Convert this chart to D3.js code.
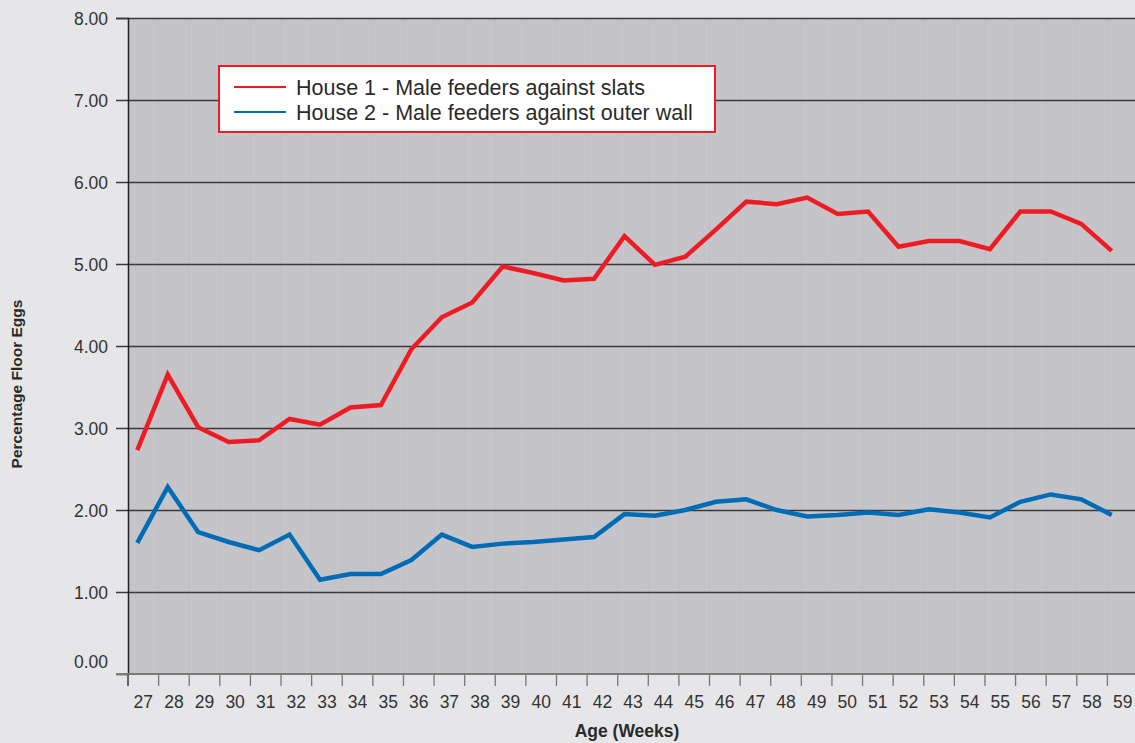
<!DOCTYPE html>
<html>
<head>
<meta charset="utf-8">
<script src="https://cdn.jsdelivr.net/npm/d3@7"></script>
<style>
  html, body { margin: 0; padding: 0; background: #e6e6e8; }
  svg { display: block; font-family: "Liberation Sans", Arial, Helvetica, sans-serif; }
</style>
</head>
<body>
<svg id="chart" width="1135" height="743"></svg>
<script>
const weeks = [27,28,29,30,31,32,33,34,35,36,37,38,39,40,41,42,43,44,45,46,47,48,49,50,51,52,53,54,55,56,57,58,59];
const house1 = [2.73,3.65,3.01,2.83,2.85,3.11,3.04,3.25,3.28,3.96,4.35,4.53,4.97,4.89,4.80,4.82,5.34,4.99,5.09,5.42,5.76,5.73,5.81,5.61,5.64,5.21,5.28,5.28,5.18,5.64,5.64,5.49,5.16];
const house2 = [1.60,2.28,1.73,1.61,1.51,1.70,1.15,1.22,1.22,1.39,1.70,1.55,1.59,1.61,1.64,1.67,1.95,1.93,2.00,2.10,2.13,2.00,1.92,1.94,1.97,1.94,2.01,1.97,1.91,2.10,2.19,2.13,1.94];
const yTicks = [0,1,2,3,4,5,6,7,8];
const seriesNames = ["House 1 - Male feeders against slats", "House 2 - Male feeders against outer wall"];
const seriesColors = ["#ed1c24", "#006cb6"];
const xTitle = "Age (Weeks)";
const yTitle = "Percentage Floor Eggs";

(function () {
const svg = d3.select("#chart");
const pLeft = 128, pTop = 18, pBottom = 674, pRight = 1138;

const y = d3.scaleLinear().domain([0, 8]).range([pBottom, pTop]);
const xBand = d3.scaleBand().domain(weeks).range([pLeft, pRight]);
const xPoint = d3.scalePoint().domain(weeks).range([137.3, 1111.7]);

// plot background
svg.append("rect").attr("x", pLeft).attr("y", pTop)
  .attr("width", pRight - pLeft).attr("height", pBottom - pTop).attr("fill", "#c5c4c9");

// faint vertical grid
svg.append("g").selectAll("line").data(weeks.slice(1)).join("line")
  .attr("x1", d => xBand(d)).attr("x2", d => xBand(d))
  .attr("y1", pTop).attr("y2", pBottom)
  .attr("stroke", "#c0bfc4").attr("stroke-width", 1);

// horizontal gridlines
svg.append("g").selectAll("line").data(yTicks.filter(d => d > 0)).join("line")
  .attr("x1", pLeft - 12).attr("x2", pRight)
  .attr("y1", d => Math.round(y(d)) + 0.5).attr("y2", d => Math.round(y(d)) + 0.5)
  .attr("stroke", "#3a3a3c").attr("stroke-width", 1.3);

// y axis
const yAxis = svg.append("g").attr("transform", `translate(${pLeft},0)`)
  .call(d3.axisLeft(y).tickValues(yTicks).tickFormat(d3.format(".2f")).tickSize(12).tickPadding(8));
yAxis.select(".domain").attr("stroke", "#222").attr("stroke-width", 1.5);
yAxis.selectAll(".tick line").attr("stroke", "#3a3a3c");
yAxis.selectAll(".tick text").attr("font-size", 17.5).attr("fill", "#333")
  .attr("font-family", "Liberation Sans, Arial, sans-serif")
  .attr("dy", d => d === 0 ? "-0.4em" : "0.35em");

// x axis
const xAxis = svg.append("g").attr("transform", `translate(0,${pBottom})`)
  .call(d3.axisBottom(xBand).tickSize(0).tickPadding(22));
xAxis.select(".domain").remove();
xAxis.selectAll(".tick text").attr("font-size", 17.5).attr("fill", "#333")
  .attr("font-family", "Liberation Sans, Arial, sans-serif");
svg.append("g").selectAll("line").data(weeks).join("line")
  .attr("x1", d => xBand(d)).attr("x2", d => xBand(d))
  .attr("y1", pBottom).attr("y2", pBottom + 12)
  .attr("stroke", d => d === weeks[0] ? "#222" : "#777").attr("stroke-width", 1.3);
svg.append("line").attr("x1", pLeft - 12).attr("x2", pRight)
  .attr("y1", pBottom).attr("y2", pBottom)
  .attr("stroke", "#7a7a7a").attr("stroke-width", 2);

// lines
const line = d3.line().x((d, i) => xPoint(weeks[i])).y(d => y(d));
[house1, house2].forEach((s, k) => {
  svg.append("path").datum(s).attr("d", line)
    .attr("fill", "none").attr("stroke", seriesColors[k])
    .attr("stroke-width", 4.5).attr("stroke-linejoin", "miter").attr("stroke-linecap", "butt");
});

// legend
const lg = svg.append("g");
lg.append("rect").attr("x", 219).attr("y", 66).attr("width", 496).attr("height", 66)
  .attr("fill", "#ffffff").attr("stroke", "#ed1c24").attr("stroke-width", 2);
seriesNames.forEach((n, i) => {
  const yy = 87 + i * 25;
  lg.append("line").attr("x1", 234).attr("x2", 286).attr("y1", yy).attr("y2", yy)
    .attr("stroke", seriesColors[i]).attr("stroke-width", 2);
  lg.append("text").attr("x", 296).attr("y", yy + 7.5).attr("font-size", 21.5)
    .attr("fill", "#2a2a2a").text(n);
});

// axis titles
svg.append("text").attr("x", 627).attr("y", 737).attr("text-anchor", "middle")
  .attr("font-size", 17.5).attr("font-weight", "bold").attr("fill", "#2a2a2a").text(xTitle);
svg.append("text").attr("transform", "translate(22,384) rotate(-90)").attr("text-anchor", "middle")
  .attr("font-size", 15.5).attr("font-weight", "bold").attr("fill", "#2a2a2a").text(yTitle);
})();
</script>
</body>
</html>
